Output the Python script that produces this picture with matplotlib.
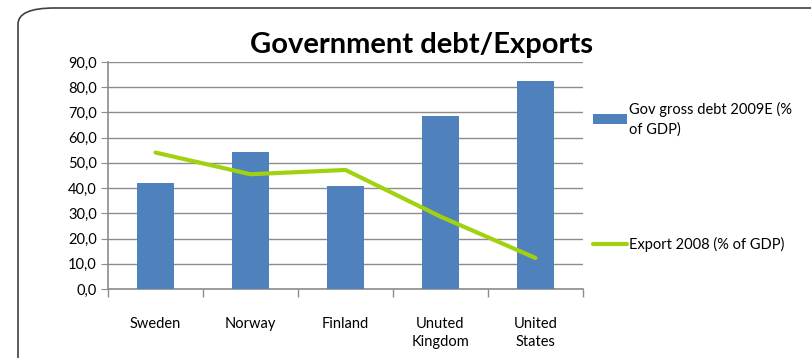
import matplotlib
matplotlib.use('Agg')
import matplotlib.pyplot as plt
from matplotlib.patches import FancyBboxPatch
from matplotlib.ticker import FuncFormatter, FixedLocator
import numpy as np

plt.rcParams['font.family'] = ['Lato', 'DejaVu Sans']

countries = ['Sweden', 'Norway', 'Finland', 'Unuted\nKingdom', 'United\nStates']
gov_debt = [42.0, 54.3, 40.9, 68.5, 82.5]
export = [54.1, 45.5, 47.2, 28.7, 12.3]

bar_color = '#4f81bd'
line_color = '#a2d20f'
grid_color = '#8c8c8c'

fig = plt.figure(figsize=(8.12, 3.58), dpi=100)

# rounded chart frame (runs off the right and bottom edges)
frame = FancyBboxPatch((18 / 812, -0.2), 1.2, 1.2 - 8 / 358,
                       boxstyle='round,pad=0,rounding_size=0.045',
                       transform=fig.transFigure, fill=False,
                       edgecolor='#404040', linewidth=1.2)
fig.patches.append(frame)

ax = fig.add_axes([108 / 812, 1 - 289 / 358, (583 - 108) / 812, (289 - 62) / 358])

x = np.arange(len(countries))
bars = ax.bar(x, gov_debt, width=0.39, color=bar_color, zorder=3,
              label='Gov gross debt 2009E (%\nof GDP)')
line, = ax.plot(x, export, color=line_color, linewidth=3, zorder=4,
                solid_capstyle='round', label='Export 2008 (% of GDP)')

ax.set_xlim(-0.5, len(countries) - 0.5)
ax.set_ylim(0, 90)
ax.set_yticks(np.arange(0, 91, 10))
ax.yaxis.set_major_formatter(FuncFormatter(lambda v, p: f'{v:.1f}'.replace('.', ',')))
ax.yaxis.grid(True, color=grid_color, linewidth=1, zorder=0)

ax.set_xticks(x)
ax.set_xticklabels(countries, fontsize=10.5, linespacing=1.35)
ax.tick_params(axis='x', which='major', length=0, pad=20)
ax.xaxis.set_minor_locator(FixedLocator(np.arange(-0.5, len(countries), 1.0)))
ax.tick_params(axis='x', which='minor', length=6, color=grid_color, width=1)
ax.tick_params(axis='y', length=5, color=grid_color, labelsize=10.5, pad=3)

for s in ['top', 'right']:
    ax.spines[s].set_visible(False)
for s in ['left', 'bottom']:
    ax.spines[s].set_color(grid_color)
    ax.spines[s].set_linewidth(1.2)

fig.text(422 / 812, 1 - 45 / 358, 'Government debt/Exports', ha='center', va='center',
         fontsize=21, fontweight='bold')

leg = ax.legend(handles=[bars, line], loc='upper left', bbox_to_anchor=(1.0, 0.87),
                frameon=False, fontsize=10.5, labelspacing=6.9, handlelength=2.3,
                handletextpad=0.15, borderaxespad=0.3)
for t in leg.get_texts():
    t.set_linespacing(1.45)

fig.savefig('out.png', dpi=100)
